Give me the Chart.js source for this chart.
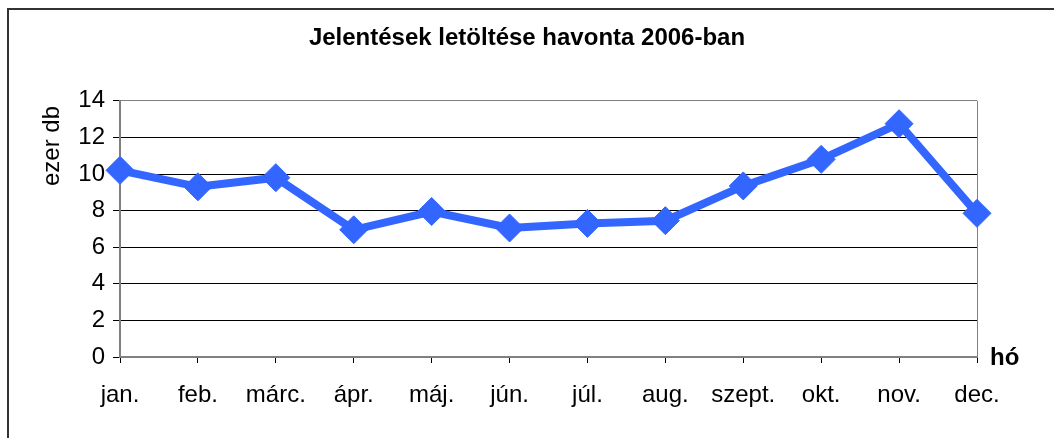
<!DOCTYPE html>
<html>
<head>
<meta charset="utf-8">
<script src="https://cdn.jsdelivr.net/npm/chart.js@4/dist/chart.umd.min.js"></script>
<style>
  html, body { margin: 0; padding: 0; background: #fff; }
  #wrap { position: relative; width: 1054px; height: 438px; }
  #frame { position: absolute; left: 7px; top: 8px; width: 1060px; height: 440px;
           border-left: 2px solid #333; border-top: 2px solid #333; pointer-events: none; }
</style>
</head>
<body>
<div id="wrap">
  <canvas id="chart" width="1054" height="438"></canvas>
  <div id="frame"></div>
</div>
<script>
const honapok = ['jan.', 'feb.', 'márc.', 'ápr.', 'máj.', 'jún.', 'júl.', 'aug.', 'szept.', 'okt.', 'nov.', 'dec.'];
const letoltesek = [10.2, 9.3, 9.8, 6.95, 7.95, 7.05, 7.3, 7.45, 9.35, 10.8, 12.75, 7.85];
const yTicks = [0, 2, 4, 6, 8, 10, 12, 14];

const FONT = '"Liberation Sans", Arial, sans-serif';

// extra texts: y title at the top-left, "hó" after the x axis
const axisTexts = {
  id: 'axisTexts',
  afterDraw(chart) {
    const ctx = chart.ctx;
    const area = chart.chartArea;
    ctx.save();
    ctx.fillStyle = '#000';
    ctx.font = '24px ' + FONT;
    ctx.translate(52, 146);
    ctx.rotate(-Math.PI / 2);
    ctx.textAlign = 'center';
    ctx.textBaseline = 'middle';
    ctx.fillText('ezer db', 0, 0);
    ctx.restore();

    ctx.save();
    ctx.fillStyle = '#000';
    ctx.font = 'bold 24px ' + FONT;
    ctx.textAlign = 'left';
    ctx.textBaseline = 'middle';
    ctx.fillText('hó', area.right + 13, area.bottom + 1);
    ctx.restore();
  }
};

new Chart(document.getElementById('chart'), {
  type: 'line',
  data: {
    labels: honapok,
    datasets: [{
      data: letoltesek,
      borderColor: '#3366ff',
      backgroundColor: '#3366ff',
      borderWidth: 8,
      pointStyle: 'rectRot',
      pointRadius: 14,
      pointBorderWidth: 1,
      pointHoverRadius: 14,
      tension: 0
    }]
  },
  options: {
    responsive: false,
    animation: false,
    layout: { padding: 0 },
    plugins: {
      legend: { display: false },
      tooltip: { enabled: false },
      title: {
        display: true,
        text: 'Jelentések letöltése havonta 2006-ban',
        color: '#000',
        font: { family: FONT, size: 24, weight: 'bold' },
        padding: { top: 24, bottom: 48 }
      }
    },
    scales: {
      x: {
        offset: false,
        grid: {
          drawOnChartArea: true,
          color: (c) => c.index === honapok.length - 1 ? '#808080' : 'rgba(0,0,0,0)',
          tickColor: '#000',
          tickLength: 6
        },
        border: { color: '#808080', width: 2 },
        ticks: {
          color: '#000',
          font: { family: FONT, size: 24 },
          padding: 18,
          maxRotation: 0,
          autoSkip: false
        },
        afterFit(scale) { scale.height = 81; }
      },
      y: {
        min: 0,
        max: 14,
        afterBuildTicks(scale) { scale.ticks = yTicks.map(v => ({ value: v })); },
        grid: {
          color: (c) => c.tick && c.tick.value === 14 ? '#808080' : '#000',
          tickColor: '#000',
          tickLength: 7
        },
        border: { color: '#808080', width: 2 },
        ticks: {
          color: '#000',
          font: { family: FONT, size: 24 },
          padding: 8
        },
        afterFit(scale) { scale.width = 120; }
      },
      // empty right-hand strip that keeps room for "hó"
      rightSpace: {
        type: 'linear',
        position: 'right',
        grid: { drawOnChartArea: false, drawTicks: false },
        border: { display: false },
        ticks: { display: false },
        afterFit(scale) { scale.width = 77; }
      }
    }
  },
  plugins: [axisTexts]
});
</script>
</body>
</html>
